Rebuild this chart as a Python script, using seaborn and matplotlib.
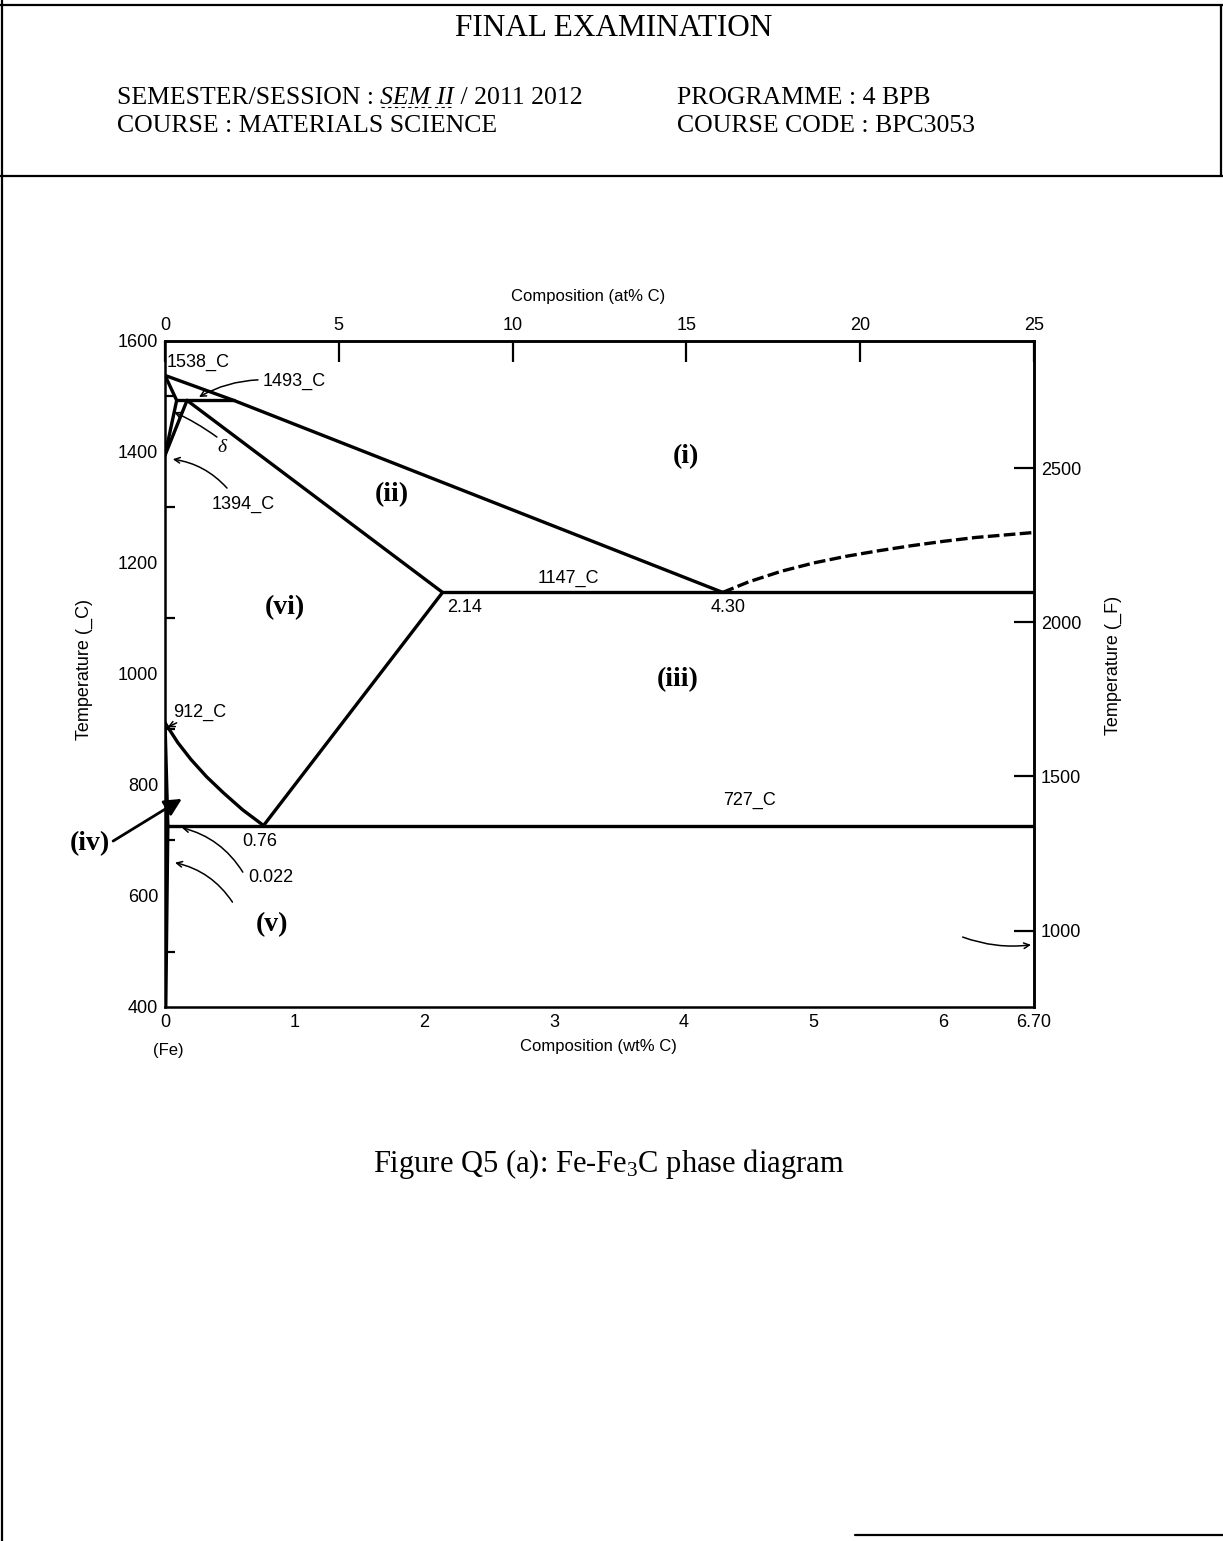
import numpy as np
import pandas as pd
import matplotlib
matplotlib.use("Agg")
import matplotlib.pyplot as plt
from matplotlib.lines import Line2D
import seaborn as sns

# ---------------------------------------------------------------------------
# Fe-Fe3C phase boundaries (composition in wt% C, temperature in deg C)
# ---------------------------------------------------------------------------
liquidus_wt = [0.0, 0.53, 4.30]
liquidus_T = [1538, 1493, 1147]

cementite_liquidus_wt = [4.30, 4.50, 4.75, 5.00, 5.25, 5.50, 5.75, 6.00, 6.25, 6.50, 6.70]
cementite_liquidus_T = [1147, 1166, 1185, 1200, 1212, 1222, 1231, 1239, 1246, 1251, 1255]

delta_solidus_wt = [0.0, 0.09]
delta_solidus_T = [1538, 1493]
peritectic_wt = [0.09, 0.53]
peritectic_T = [1493, 1493]
delta_solvus_wt = [0.09, 0.0]
delta_solvus_T = [1493, 1394]
gamma_delta_wt = [0.17, 0.0]
gamma_delta_T = [1493, 1394]
gamma_solidus_wt = [0.17, 2.14]
gamma_solidus_T = [1493, 1147]
eutectic_wt = [2.14, 6.70]
eutectic_T = [1147, 1147]
acm_wt = [2.14, 0.76]
acm_T = [1147, 727]
a3_wt = [0.0, 0.10, 0.20, 0.32, 0.45, 0.60, 0.76]
a3_T = [912, 876, 846, 815, 786, 755, 727]
eutectoid_wt = [0.022, 6.70]
eutectoid_T = [727, 727]
alpha_gamma_wt = [0.0, 0.022]
alpha_gamma_T = [912, 727]
alpha_solvus_wt = [0.022, 0.006]
alpha_solvus_T = [727, 400]

# axis ticks
wt_ticks = [0, 1, 2, 3, 4, 5, 6, 6.70]
wt_tick_labels = ["0", "1", "2", "3", "4", "5", "6", "6.70"]
at_ticks = [0, 5, 10, 15, 20, 25]
degC_ticks = [400, 600, 800, 1000, 1200, 1400, 1600]
degC_minor = [500, 700, 900, 1100, 1300, 1500]
degF_ticks = [1000, 1500, 2000, 2500]

# point labels
point_labels = ["1538_C", "1493_C", "1394_C", "912_C", "1147_C", "727_C",
                "2.14", "4.30", "0.76", "0.022"]
region_labels = ["(i)", "(ii)", "(iii)", "(iv)", "(v)", "(vi)"]

# ---------------------------------------------------------------------------
boundaries = {
    "liquidus": (liquidus_wt, liquidus_T),
    "delta_solidus": (delta_solidus_wt, delta_solidus_T),
    "peritectic": (peritectic_wt, peritectic_T),
    "delta_solvus": (delta_solvus_wt, delta_solvus_T),
    "gamma_delta": (gamma_delta_wt, gamma_delta_T),
    "gamma_solidus": (gamma_solidus_wt, gamma_solidus_T),
    "eutectic": (eutectic_wt, eutectic_T),
    "acm": (acm_wt, acm_T),
    "a3": (a3_wt, a3_T),
    "eutectoid": (eutectoid_wt, eutectoid_T),
    "alpha_gamma": (alpha_gamma_wt, alpha_gamma_T),
    "alpha_solvus": (alpha_solvus_wt, alpha_solvus_T),
}
rows = []
for name, (ws, ts) in boundaries.items():
    for i, (w, t) in enumerate(zip(ws, ts)):
        rows.append({"boundary": name, "order": i, "wt": w, "T": t})
solid_df = pd.DataFrame(rows)
dashed_df = pd.DataFrame({"wt": cementite_liquidus_wt, "T": cementite_liquidus_T})

sns.set_style("white")
plt.rcParams["font.family"] = ["Liberation Sans", "DejaVu Sans"]
plt.rcParams["mathtext.fontset"] = "custom"
plt.rcParams["mathtext.rm"] = "Liberation Serif"
plt.rcParams["mathtext.it"] = "Liberation Serif:italic"
for key in ["text.color", "axes.labelcolor", "xtick.color", "ytick.color",
            "axes.edgecolor"]:
    plt.rcParams[key] = "black"

W, H = 1223, 1541
fig = plt.figure(figsize=(W / 100, H / 100), dpi=100)
fig.patch.set_facecolor("white")
SERIF = ["Liberation Serif", "DejaVu Serif"]


def fx(x):
    return x / W


def fy(y):
    return 1 - y / H


# ---- page frame -----------------------------------------------------------
for (x0, y0, x1, y1) in [(0, 5, W, 5), (0, 176, W, 176), (2, 0, 2, H),
                         (1221, 5, 1221, 176), (855, 1535, W, 1535)]:
    fig.add_artist(Line2D([fx(x0), fx(x1)], [fy(y0), fy(y1)], color="black",
                          lw=1.6, transform=fig.transFigure))

# ---- header ---------------------------------------------------------------
fig.text(fx(614), fy(35.5), "FINAL EXAMINATION", ha="center", va="baseline",
         fontsize=22.5, family=SERIF)

renderer = fig.canvas.get_renderer()
hs = 18.5
t1 = fig.text(fx(117), fy(103.5), "SEMESTER/SESSION : ", ha="left",
              va="baseline", fontsize=hs, family=SERIF)
x_after = t1.get_window_extent(renderer).x1 / fig.bbox.width
t2 = fig.text(x_after, fy(103.5), "SEM II", ha="left", va="baseline",
              fontsize=hs, family=SERIF, style="italic")
bb2 = t2.get_window_extent(renderer)
fig.add_artist(Line2D([bb2.x0 / fig.bbox.width, bb2.x1 / fig.bbox.width],
                      [fy(107), fy(107)], color="black", lw=0.8,
                      ls=(0, (3, 3)), transform=fig.transFigure))
fig.text(bb2.x1 / fig.bbox.width, fy(103.5), " / 2011 2012", ha="left",
         va="baseline", fontsize=hs, family=SERIF)
fig.text(fx(117), fy(132.5), "COURSE : MATERIALS SCIENCE", ha="left",
         va="baseline", fontsize=hs, family=SERIF)
fig.text(fx(677), fy(103.5), "PROGRAMME : 4 BPB", ha="left",
         va="baseline", fontsize=hs, family=SERIF)
fig.text(fx(677), fy(132.5), "COURSE CODE : BPC3053", ha="left",
         va="baseline", fontsize=hs, family=SERIF)

# ---- phase diagram --------------------------------------------------------
ax_l, ax_r, ax_t, ax_b = 165, 1034, 341, 1007
ax = fig.add_axes([fx(ax_l), fy(ax_b), (ax_r - ax_l) / W, (ax_b - ax_t) / H])
ax.set_facecolor("white")

LW = 2.4
sns.lineplot(data=solid_df, x="wt", y="T", units="boundary", estimator=None,
             sort=False, color="black", linewidth=LW, ax=ax, legend=False)
sns.lineplot(data=dashed_df, x="wt", y="T", estimator=None, sort=False,
             color="black", linewidth=LW, linestyle=(0, (3.5, 1.3)), ax=ax,
             legend=False)

ax.set_xlim(0, 6.70)
ax.set_ylim(400, 1600)
for sp in ax.spines.values():
    sp.set_visible(True)
    sp.set_color("black")
    sp.set_linewidth(1.8)

TICK_FS = 13
ax.set_xticks(wt_ticks)
ax.set_xticklabels(wt_tick_labels)
ax.set_yticks(degC_ticks)
ax.set_yticks(degC_minor, minor=True)
ax.tick_params(axis="x", which="major", direction="in", length=16.5,
               width=1.6, labelsize=TICK_FS, pad=5, top=False, color="black")
ax.tick_params(axis="y", which="major", direction="in", length=13,
               width=1.6, labelsize=TICK_FS, pad=5, right=False, color="black")
ax.tick_params(axis="y", which="minor", direction="in", length=7,
               width=1.6, left=True, right=False, color="black")
ax.set_xlabel("")
ax.set_ylabel("")

# composition in at% C along the top (Fe3C = 25 at% = 6.70 wt%)
top = ax.secondary_xaxis("top", functions=(lambda w: w * 25 / 6.70,
                                           lambda a: a * 6.70 / 25))
top.set_xticks(at_ticks)
top.tick_params(direction="in", length=15, width=1.6, labelsize=TICK_FS, pad=5)
top.spines["top"].set_linewidth(1.8)

# temperature in deg F on the right
right = ax.secondary_yaxis("right", functions=(lambda c: c * 9 / 5 + 32,
                                               lambda f: (f - 32) * 5 / 9))
right.set_yticks(degF_ticks)
right.tick_params(direction="in", length=14.5, width=1.6, labelsize=TICK_FS, pad=5)
right.spines["right"].set_linewidth(1.8)

fig.text(fx(84), fy(670), "Temperature (_C)", rotation=90, ha="center",
         va="center", fontsize=13)
fig.text(fx(1113), fy(665), "Temperature (_F)", rotation=90, ha="center",
         va="center", fontsize=13)
fig.text(fx(588), fy(297), "Composition (at% C)", ha="center", va="center",
         fontsize=12)
fig.text(fx(598), fy(1047), "Composition (wt% C)", ha="center", va="center",
         fontsize=12)
fig.text(fx(168), fy(1050), "(Fe)", ha="center", va="center", fontsize=12)

# ---- point annotations ----------------------------------------------------
AFS = 13
ax.text(0.01, 1561, point_labels[0], fontsize=AFS, ha="left", va="center")
ax.text(0.75, 1528, point_labels[1], fontsize=AFS, ha="left", va="center")
ax.text(0.36, 1305, point_labels[2], fontsize=AFS, ha="left", va="center")
ax.text(0.06, 930, point_labels[3], fontsize=AFS, ha="left", va="center")
ax.text(3.11, 1173, point_labels[4], fontsize=AFS, ha="center", va="center")
ax.text(4.51, 773, point_labels[5], fontsize=AFS, ha="center", va="center")
ax.text(2.31, 1119, point_labels[6], fontsize=AFS, ha="center", va="center")
ax.text(4.34, 1119, point_labels[7], fontsize=AFS, ha="center", va="center")
ax.text(0.73, 699, point_labels[8], fontsize=AFS, ha="center", va="center")
ax.text(0.64, 633, point_labels[9], fontsize=AFS, ha="left", va="center")
ax.text(0.44, 1409, "δ", fontsize=14, ha="center", va="center",
        family=SERIF, style="italic")

thin = dict(arrowstyle="->", color="black", lw=1.1, mutation_scale=10,
            shrinkA=0, shrinkB=0)
arrows = [
    ((0.262, 1499), (0.717, 1530), 0.12),
    ((0.07, 1472), (0.40, 1427), 0.05),
    ((0.06, 1387), (0.478, 1335), 0.18),
    ((0.02, 904), (0.09, 912), 0.0),
    ((0.13, 723), (0.60, 643), 0.2),
    ((0.077, 660), (0.52, 589), 0.2),
    ((6.677, 512), (6.15, 526), 0.12),
]
for tip, start, rad in arrows:
    ax.annotate("", xy=tip, xytext=start,
                arrowprops=dict(thin, connectionstyle=f"arc3,rad={rad}"),
                annotation_clip=False)

# (iv) pointer
ax.annotate("", xy=(0.13, 775), xytext=(-0.40, 699),
            arrowprops=dict(arrowstyle="-|>", color="black", lw=2.0,
                            mutation_scale=26, shrinkA=0, shrinkB=0),
            annotation_clip=False)

# ---- region labels --------------------------------------------------------
RFS = 20
region_pos = [(4.02, 1391), (1.75, 1323), (3.955, 989), (-0.578, 695),
              (0.825, 548), (0.925, 1119)]
for lab, (w, t) in zip(region_labels, region_pos):
    ax.text(w, t, lab, fontsize=RFS, fontweight="bold", family=SERIF,
            ha="center", va="center", clip_on=False)

# ---- caption --------------------------------------------------------------
fig.text(fx(609), fy(1172), "Figure Q5 (a): Fe-Fe$_3$C phase diagram",
         ha="center", va="baseline", fontsize=22, family=SERIF)

fig.savefig("out.png", dpi=100, facecolor="white")
